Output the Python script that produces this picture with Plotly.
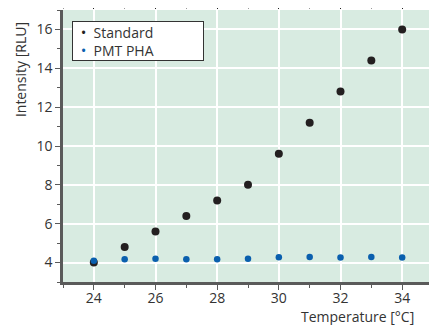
import plotly.graph_objects as go

temperature = [24, 25, 26, 27, 28, 29, 30, 31, 32, 33, 34]
standard = [4.0, 4.8, 5.6, 6.4, 7.2, 8.0, 9.6, 11.2, 12.8, 14.4, 16.0]
pmt_pha = [4.1, 4.17, 4.2, 4.17, 4.17, 4.2, 4.27, 4.29, 4.26, 4.29, 4.26]
x_ticks = [24, 26, 28, 30, 32, 34]
y_ticks = [4, 6, 8, 10, 12, 14, 16]
series_names = ["Standard", "PMT PHA"]
series_colors = ["#231f20", "#0a5fae"]

FONT = "Open Sans"
TXT = "#333333"
AX = "#5a5a5a"
FS = 14

fig = go.Figure()
fig.add_trace(go.Scatter(x=temperature, y=standard, mode="markers", name=series_names[0],
                         marker=dict(color=series_colors[0], size=8), showlegend=False))
fig.add_trace(go.Scatter(x=temperature, y=pmt_pha, mode="markers", name=series_names[1],
                         marker=dict(color=series_colors[1], size=6.5), showlegend=False))
# invisible trace to hold mirror axes
fig.add_trace(go.Scatter(x=[temperature[0]], y=[standard[0]], xaxis="x2", yaxis="y2",
                         mode="markers", marker=dict(opacity=0), showlegend=False, hoverinfo="skip"))

legend_text = "<br>".join(
    f"\u00a0<span style='color:{c};font-size:15px'>•</span>\u00a0 {n}"
    for n, c in zip(series_names, series_colors))

# page body has an 8px default margin; compensate so the plot area lands where intended
fig.update_layout(
    width=429, height=317,
    margin=dict(l=55, r=4, t=2, b=43),
    paper_bgcolor="white",
    plot_bgcolor="#d8ebe1",
    font=dict(family=FONT, size=FS, color=TXT),
    showlegend=False,
    xaxis=dict(range=[23, 35], tickvals=x_ticks, showgrid=True, gridcolor="white", gridwidth=1.5,
               zeroline=False, showline=True, linecolor=AX, linewidth=2.5, automargin=False,
               ticks="outside", ticklen=5, tickcolor=AX, tickwidth=1.2, ticklabelstandoff=-4,
               minor=dict(ticklen=3, tickcolor=AX, ticks="outside", dtick=1, showgrid=False),
               tickfont=dict(family=FONT, size=FS, color=TXT)),
    yaxis=dict(range=[3, 17], tickvals=y_ticks, showgrid=True, gridcolor="white", gridwidth=1.5,
               zeroline=False, showline=True, linecolor=AX, linewidth=2.5, automargin=False,
               ticks="outside", ticklen=5, tickcolor=AX, tickwidth=1.2,
               minor=dict(ticklen=3, tickcolor=AX, ticks="outside", dtick=1, showgrid=False),
               tickfont=dict(family=FONT, size=FS, color=TXT)),
    xaxis2=dict(overlaying="x", side="top", range=[23, 35], tickvals=x_ticks, automargin=False,
                showgrid=False, zeroline=False, showline=False, showticklabels=False,
                ticks="outside", ticklen=2, tickcolor="#222222", tickwidth=1,
                minor=dict(ticklen=2, tickcolor="#999999", ticks="outside", dtick=1, showgrid=False)),
    yaxis2=dict(overlaying="y", side="right", range=[3, 17], tickvals=y_ticks, automargin=False,
                showgrid=False, zeroline=False, showline=False, showticklabels=False,
                ticks="outside", ticklen=2, tickcolor="#222222", tickwidth=1,
                minor=dict(ticklen=2, tickcolor="#999999", ticks="outside", dtick=1, showgrid=False)),
    annotations=[
        dict(text=legend_text, xref="paper", yref="paper", x=0.0243, y=0.963,
             xanchor="left", yanchor="top", align="left", showarrow=False,
             yshift=-1,
             width=122, height=30, borderpad=4, bgcolor="white",
             bordercolor="#333333", borderwidth=1,
             font=dict(family=FONT, size=FS, color=TXT)),
        dict(text="Temperature [°C]", xref="paper", yref="paper", x=0.955, y=0,
             xanchor="right", yanchor="middle", yshift=-34, showarrow=False,
             font=dict(family=FONT, size=FS, color=TXT)),
        dict(text="Intensity [RLU]", xref="paper", yref="paper", x=0, y=0.779,
             xanchor="center", yanchor="middle", xshift=-43, textangle=-90, showarrow=False,
             font=dict(family=FONT, size=FS, color=TXT)),
    ],
)

fig.write_html("out.html")
